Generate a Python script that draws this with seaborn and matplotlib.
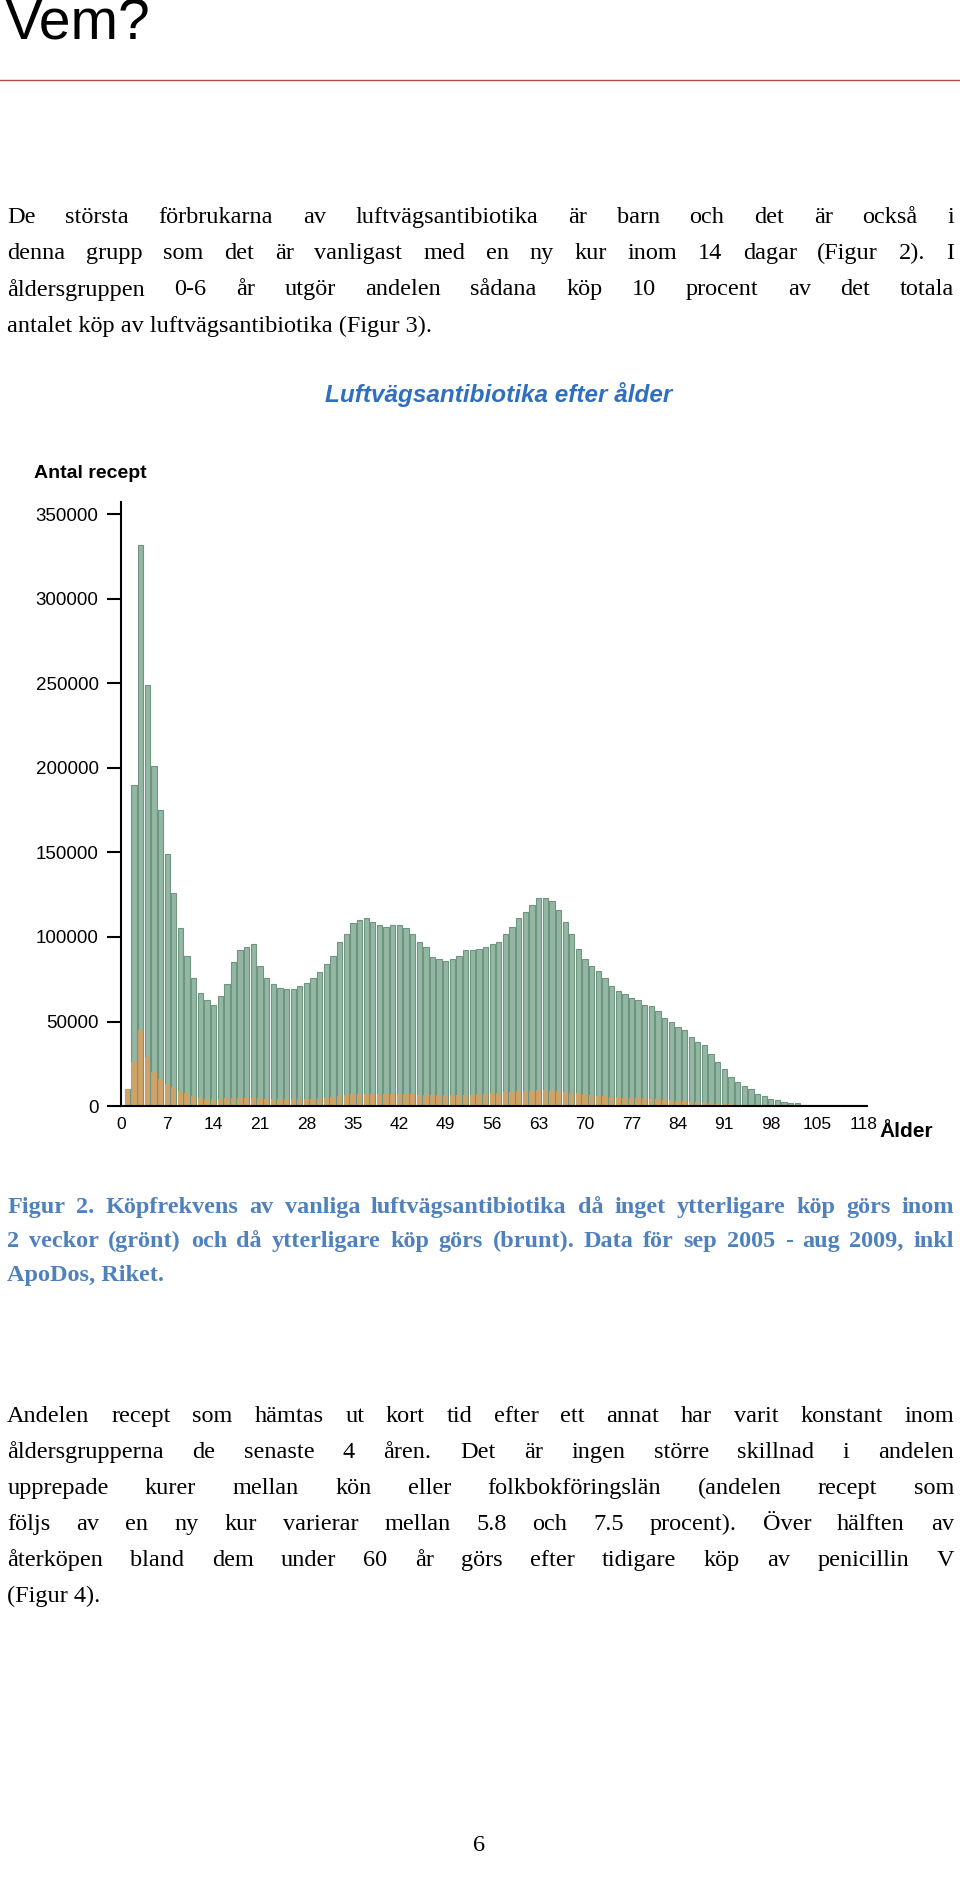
import numpy as np
import pandas as pd
import matplotlib
matplotlib.use("Agg")
import matplotlib.pyplot as plt
import seaborn as sns

green = [10000, 190000, 332000, 249000, 201000, 175000, 149000, 126000, 105000, 89000,
         76000, 67000, 63000, 60000, 65000, 72000, 85000, 92000, 94000, 96000,
         83000, 76000, 72000, 70000, 69000, 69000, 71000, 73000, 76000, 79000,
         84000, 89000, 97000, 102000, 108000, 110000, 111000, 109000, 107000, 106000,
         107000, 107000, 105000, 102000, 97000, 94000, 88000, 87000, 86000, 87000,
         89000, 92000, 92000, 93000, 94000, 96000, 97000, 102000, 106000, 111000,
         115000, 119000, 123000, 123000, 121000, 116000, 109000, 102000, 93000, 87000,
         83000, 80000, 76000, 71000, 68000, 66000, 64000, 63000, 60000, 59000,
         56000, 52000, 50000, 47000, 45000, 41000, 38000, 36000, 31000, 26000,
         22000, 17000, 14000, 12000, 10000, 7000, 6000, 4000, 3500, 2400,
         1600, 1600, 900, 800, 700, 600, 600, 500, 500, 500, 500, 500]
orange = [10000, 26000, 45000, 29000, 20000, 16000, 13000, 11000, 9000, 8000,
          6000, 5000, 4000, 4000, 4000, 5000, 5000, 5000, 5000, 5000,
          4500, 4000, 4000, 4000, 4000, 4000, 4000, 4000, 4000, 4500,
          5000, 5500, 6000, 6500, 7000, 7000, 7000, 7000, 7000, 7000,
          7000, 7000, 7000, 7000, 6500, 6500, 6500, 6500, 6500, 6500,
          6500, 6500, 6500, 7000, 7000, 7500, 8000, 8500, 8500, 9000,
          9000, 9000, 9500, 9500, 9000, 9000, 8500, 8000, 7500, 7000,
          6500, 6000, 6000, 5500, 5500, 5000, 5000, 4500, 4500, 4000,
          4000, 3500, 3500, 3000, 3000, 2500, 2500, 2000, 2000, 1500,
          1200, 1000, 800, 600, 500, 400, 300, 200, 200, 150,
          100, 100, 80, 60, 50, 50, 40, 40, 30, 30, 30, 30]
ages = list(range(1, len(green) + 1))
tick_pos = list(range(0, 113, 7))
tick_labels = ["0", "7", "14", "21", "28", "35", "42", "49", "56", "63", "70",
               "77", "84", "91", "98", "105", "118"]

df = pd.DataFrame({"age": ages, "green": green, "orange": orange})

W, H = 960, 1893
fig = plt.figure(figsize=(W / 100, H / 100), dpi=100)
renderer = fig.canvas.get_renderer()
S = 1.2075
def fy(y):
    return 1 - y * S / H
def fx(x):
    return x * S / W

serif = "Liberation Serif"
sans = "Liberation Sans"

def justified(lines, x0, x1, y0, dy, justify_last=False, **kw):
    # x0, x1, y0, dy in display (795-wide) coordinates
    for i, line in enumerate(lines):
        y = fy(y0 + dy * i)
        last = (i == len(lines) - 1) and not justify_last
        if last:
            fig.text(fx(x0), y, line, va="center", **kw)
            continue
        words = line.split(" ")
        texts = [fig.text(0, y, w, va="center", **kw) for w in words]
        widths = [t.get_window_extent(renderer).width / W for t in texts]
        total = fx(x1) - fx(x0)
        gap = (total - sum(widths)) / max(len(words) - 1, 1)
        x = fx(x0)
        for t, w in zip(texts, widths):
            t.set_x(x)
            x += w + gap

fig.text(fx(4), fy(20), "Vem?", fontsize=41, family=sans, va="center", ha="left")
fig.add_artist(plt.Line2D([0, 1], [fy(66), fy(66)], color="#b05040", lw=1))

p1 = ["De största förbrukarna av luftvägsantibiotika är barn och det är också i",
      "denna grupp som det är vanligast med en ny kur inom 14 dagar (Figur 2). I",
      "åldersgruppen 0-6 år utgör andelen sådana köp 10 procent av det totala",
      "antalet köp av luftvägsantibiotika (Figur 3)."]
justified(p1, 6, 790, 180, 30, fontsize=17.5, family=serif)

fig.text(fx(413), fy(327), "Luftvägsantibiotika efter ålder", fontsize=17.5, family=sans,
         style="italic", weight="bold", color="#2f6fc0", ha="center", va="center")

ax = fig.add_axes([fx(100), fy(916), fx(718) - fx(100), (916 - 416) * S / H])
sns.barplot(data=df, x="age", y="green", native_scale=True, ax=ax, color="#93b7a3",
            edgecolor="#6f9580", linewidth=0.8, width=0.8, saturation=1)
sns.barplot(data=df, x="age", y="orange", native_scale=True, ax=ax, color="#d8a060",
            alpha=0.85, linewidth=0, width=0.8, saturation=1)
ax.set_xlim(0, 112.5)
ax.set_ylim(0, 357000)
ax.set_xticks(tick_pos)
ax.set_xticklabels(tick_labels, fontsize=12.5, family=sans)
ax.set_yticks(range(0, 350001, 50000))
ax.set_yticklabels([str(v) for v in range(0, 350001, 50000)], fontsize=13.5, family=sans)
ax.tick_params(axis="x", length=0, pad=8)
ax.tick_params(axis="y", length=10, width=1.5, pad=6)
ax.set_xlabel("")
ax.set_ylabel("")
for s in ["top", "right"]:
    ax.spines[s].set_visible(False)
ax.spines["left"].set_linewidth(1.5)
ax.spines["bottom"].set_linewidth(1.5)
fig.text(fx(28), fy(392), "Antal recept", fontsize=14, family=sans, weight="bold", va="center")
fig.text(fx(728), fy(937), "Ålder", fontsize=15, family=sans, weight="bold", va="center")

cap = ["Figur 2. Köpfrekvens av vanliga luftvägsantibiotika då inget ytterligare köp görs inom",
       "2 veckor (grönt) och då ytterligare köp görs (brunt). Data för sep 2005 - aug 2009, inkl",
       "ApoDos, Riket."]
justified(cap, 6, 790, 1000, 28, fontsize=17.5, family=serif, weight="bold", color="#4f81bd")

p2 = ["Andelen recept som hämtas ut kort tid efter ett annat har varit konstant inom",
      "åldersgrupperna de senaste 4 åren. Det är ingen större skillnad i andelen",
      "upprepade kurer mellan kön eller folkbokföringslän (andelen recept som",
      "följs av en ny kur varierar mellan 5.8 och 7.5 procent). Över hälften av",
      "återköpen bland dem under 60 år görs efter tidigare köp av penicillin V",
      "(Figur 4)."]
justified(p2, 6, 790, 1173, 29.8, fontsize=17.5, family=serif)

fig.text(fx(397), fy(1528), "6", fontsize=17.5, family=serif, ha="center", va="center")

fig.savefig("out.png", dpi=100)
